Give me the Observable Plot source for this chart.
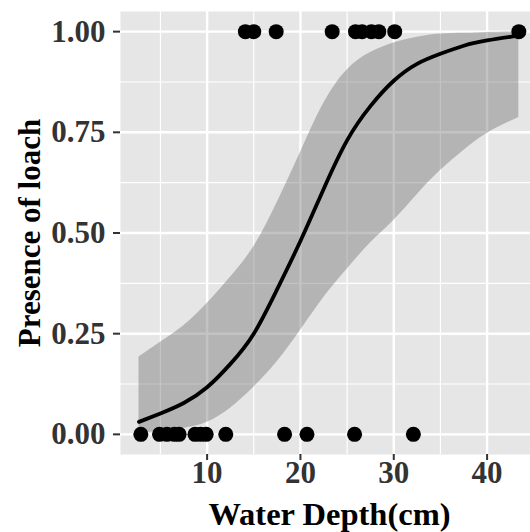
<!DOCTYPE html>
<html>
<head>
<meta charset="utf-8">
<script src="https://cdn.jsdelivr.net/npm/d3@7"></script>
<script src="https://cdn.jsdelivr.net/npm/@observablehq/plot@0.6"></script>
<style>
  html, body { margin: 0; padding: 0; background: #ffffff; }
  #chart svg { display: block; }
</style>
</head>
<body>
<div id="chart"></div>
<script>
// Observed presence (1) / absence (0) of loach by water depth (cm)
const presentDepth = [14.1, 15.0, 17.4, 23.4, 25.9, 26.6, 27.6, 28.4, 30.1, 43.4];
const absentDepth = [2.9, 4.9, 5.7, 6.5, 7.0, 8.7, 9.3, 9.9, 12.0, 18.3, 20.7, 25.8, 32.1];

// Fitted logistic curve and confidence band
const fitDepth = [2.7, 5, 7.5, 10, 12.5, 15, 17.5, 20, 22.5, 25, 27.5, 30, 32.5, 35, 37.5, 40, 43.4];
const fitProb  = [0.031, 0.052, 0.078, 0.117, 0.175, 0.25, 0.36, 0.48, 0.61, 0.73, 0.815, 0.878, 0.92, 0.945, 0.965, 0.978, 0.99];
const fitLower = [0.004, 0.008, 0.015, 0.03, 0.065, 0.117, 0.18, 0.258, 0.34, 0.41, 0.475, 0.531, 0.595, 0.655, 0.705, 0.747, 0.787];
const fitUpper = [0.192, 0.229, 0.27, 0.325, 0.39, 0.466, 0.575, 0.70, 0.822, 0.905, 0.948, 0.972, 0.986, 0.994, 0.996, 0.998, 0.999];

const xTicks = [10, 20, 30, 40];
const xMinor = [5, 15, 25, 35];
const yTicks = [0, 0.25, 0.5, 0.75, 1];
const yMinor = [0.125, 0.375, 0.625, 0.875];

const points = [
  ...presentDepth.map(d => ({depth: d, presence: 1})),
  ...absentDepth.map(d => ({depth: d, presence: 0}))
];
const fit = fitDepth.map((d, i) => ({depth: d, p: fitProb[i], lo: fitLower[i], hi: fitUpper[i]}));

const font = "'Liberation Serif', 'Times New Roman', serif";

const chart = Plot.plot({
  width: 530,
  height: 532,
  marginLeft: 120,
  marginRight: 0,
  marginTop: 11,
  marginBottom: 78,
  style: {fontFamily: font, background: "#ffffff"},
  x: {domain: [0.72, 44.65], axis: null},
  y: {domain: [-0.05, 1.05], axis: null},
  marks: [
    Plot.frame({fill: "#E6E6E6", stroke: null}),
    Plot.gridX(xMinor, {stroke: "#ffffff", strokeOpacity: 1, strokeWidth: 1.2}),
    Plot.gridY(yMinor, {stroke: "#ffffff", strokeOpacity: 1, strokeWidth: 1.2}),
    Plot.gridX(xTicks, {stroke: "#ffffff", strokeOpacity: 1, strokeWidth: 2.4}),
    Plot.gridY(yTicks, {stroke: "#ffffff", strokeOpacity: 1, strokeWidth: 2.4}),
    Plot.areaY(fit, {x: "depth", y1: "lo", y2: "hi", fill: "#707070", fillOpacity: 0.42, curve: "natural"}),
    Plot.line(fit, {x: "depth", y: "p", stroke: "#000000", strokeWidth: 3.8, curve: "natural"}),
    Plot.dot(points, {x: "depth", y: "presence", r: 7.5, fill: "#000000", stroke: null}),
    Plot.axisX({ticks: xTicks, tickSize: 6, tickPadding: 0, stroke: "#333333", strokeWidth: 2, fill: "#333333",
      fontSize: 31, fontWeight: "bold", fontFamily: font, label: null, tickFormat: d3.format("d")}),
    Plot.axisY({ticks: yTicks, tickSize: 7, tickPadding: 8, stroke: "#333333", strokeWidth: 2, fill: "#333333",
      fontSize: 31, fontWeight: "bold", fontFamily: font, label: null, tickFormat: d3.format(".2f")}),
    Plot.text(["Water Depth(cm)"], {frameAnchor: "bottom", dx: 4, dy: 70, fontSize: 32.5, fontWeight: "bold",
      fontFamily: font, fill: "#000000"}),
    Plot.text(["Presence of loach"], {frameAnchor: "left", textAnchor: "middle", dx: -90, dy: 0, rotate: -90, fontSize: 31,
      fontWeight: "bold", fontFamily: font, fill: "#000000"})
  ]
});

document.getElementById("chart").appendChild(chart);
</script>
</body>
</html>
